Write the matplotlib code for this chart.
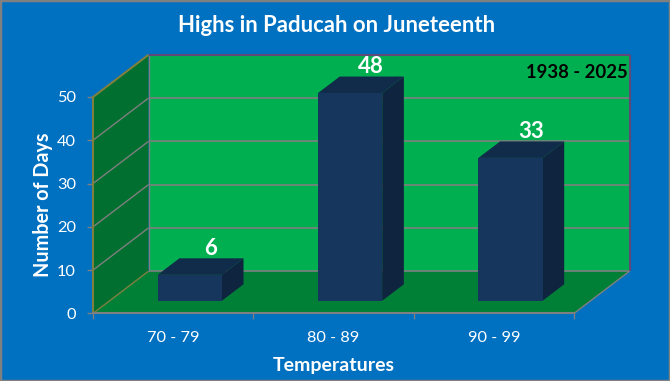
import matplotlib
matplotlib.use('Agg')
import matplotlib.pyplot as plt
from matplotlib.patches import Polygon, Rectangle

# data
categories = ['70 - 79', '80 - 89', '90 - 99']
days = [6, 48, 33]
y_ticks = [0, 10, 20, 30, 40, 50]

plt.rcParams['font.family'] = ['Lato', 'DejaVu Sans']

BLUE = '#0070C0'
WALL = '#00B050'
SIDE = '#006F2F'
FLOOR = '#008037'
BAR_FRONT = '#17365D'
BAR_TOP = '#112B4A'
BAR_SIDE = '#0F243E'
GRID = '#7F7F7F'

W, H = 670, 381
fig = plt.figure(figsize=(W / 100, H / 100), dpi=100, facecolor=BLUE)

# front plane of the fake 3d box, in pixels
left, right, bottom, top = 93, 574, 313.4, 97
ax = fig.add_axes([left / W, 1 - bottom / H, (right - left) / W, (bottom - top) / H])
ax.set_xlim(0, 3)
ax.set_ylim(0, 50)
ax.patch.set_alpha(0)

# full depth of the box in data units
depth_x = 55.5 / ((right - left) / 3)
depth_y = 42.2 / ((bottom - top) / 50)


def proj(x, y, d):
    # d is the depth, 0 = front and 1 = back wall
    return x + d * depth_x, y + d * depth_y


def face(points, color, zorder, edge='none', lw=0.0):
    ax.add_patch(Polygon([proj(*p) for p in points], closed=True, facecolor=color,
                         edgecolor=edge, linewidth=lw, zorder=zorder, clip_on=False))


def line(p1, p2, color, lw, zorder):
    a, b = proj(*p1), proj(*p2)
    ax.plot([a[0], b[0]], [a[1], b[1]], color=color, lw=lw, zorder=zorder,
            clip_on=False, solid_capstyle='butt')


# walls and floor
face([(0, 0, 1), (3, 0, 1), (3, 50, 1), (0, 50, 1)], WALL, 1)
face([(0, 0, 0), (0, 0, 1), (0, 50, 1), (0, 50, 0)], SIDE, 1)
face([(0, 0, 0), (3, 0, 0), (3, 0, 1), (0, 0, 1)], FLOOR, 1)

# gridlines run along the back wall and down the side wall
for t in y_ticks:
    if t > 0 and t < 50:
        line((0, t, 1), (3, t, 1), GRID, 1.2, 2)
    if t < 50:
        line((0, t, 0), (0, t, 1), GRID if t > 0 else '#7F8040', 1.0, 2)
line((0, 0, 1), (3, 0, 1), GRID, 1.2, 2)
line((0, 50, 0), (0, 50, 1), '#7F8040', 1.5, 3)
line((0, 0, 1), (0, 50, 1), GRID, 1.0, 3)
line((0, 50, 1), (3, 50, 1), '#5F497A', 1.5, 3)
line((3, 0, 1), (3, 50, 1), '#5F497A', 1.5, 3)
line((3, 0, 0), (3, 0, 1), GRID, 1.0, 3)

# bars
bar_w = 0.4
d0, d1 = 0.30, 0.69
for i, v in enumerate(days):
    x0 = i + 0.5 - bar_w / 2
    x1 = i + 0.5 + bar_w / 2
    face([(x0, v, d0), (x1, v, d0), (x1, v, d1), (x0, v, d1)], BAR_TOP, 4)
    face([(x1, 0, d0), (x1, 0, d1), (x1, v, d1), (x1, v, d0)], BAR_SIDE, 4)
    face([(x0, 0, d0), (x1, 0, d0), (x1, v, d0), (x0, v, d0)], BAR_FRONT, 5)
    ax.annotate(str(v), xy=proj(i + 0.5, v, d1), xytext=(-0.5, 7), textcoords='offset points',
                ha='center', va='center', color='white', fontsize=16, fontweight='bold',
                zorder=6, annotation_clip=False)

# axes
for s in ['top', 'right']:
    ax.spines[s].set_visible(False)
ax.spines['left'].set_color('#7F8040')
ax.spines['left'].set_linewidth(1.5)
ax.spines['bottom'].set_color(GRID)
ax.spines['bottom'].set_linewidth(1.5)
for s in ['left', 'bottom']:
    ax.spines[s].set_zorder(7)

ax.set_yticks(y_ticks)
ax.set_xticks([0, 1, 2, 3])
ax.set_xticklabels([])
ax.set_xticks([0.5, 1.5, 2.5], categories, minor=True)
ax.tick_params(axis='y', length=4.3, width=1, color=GRID, labelcolor='white', labelsize=11.8, pad=8)
ax.tick_params(axis='x', which='major', length=4.3, width=1, color=GRID)
ax.tick_params(axis='x', which='minor', length=0, labelcolor='white', labelsize=11.8, pad=12.5)

ax.set_xlabel('Temperatures', color='white', fontsize=14, fontweight='bold', labelpad=9)
ax.set_ylabel('Number of Days', color='white', fontsize=14.2, fontweight='bold', labelpad=3)

fig.text(336.5 / W, 1 - 25 / H, 'Highs in Paducah on Juneteenth', color='white', fontsize=15.9,
         fontweight='bold', ha='center', va='center')
fig.text(628 / W, 1 - 72.5 / H, '1938 - 2025', color='black', fontsize=13.3, fontweight='bold',
         ha='right', va='center')

# chart border
fig.add_artist(Rectangle((0, 0), 1, 1, transform=fig.transFigure, fill=False,
                         edgecolor='#808080', linewidth=2.5))

fig.savefig('out.png', dpi=100, facecolor=BLUE)
